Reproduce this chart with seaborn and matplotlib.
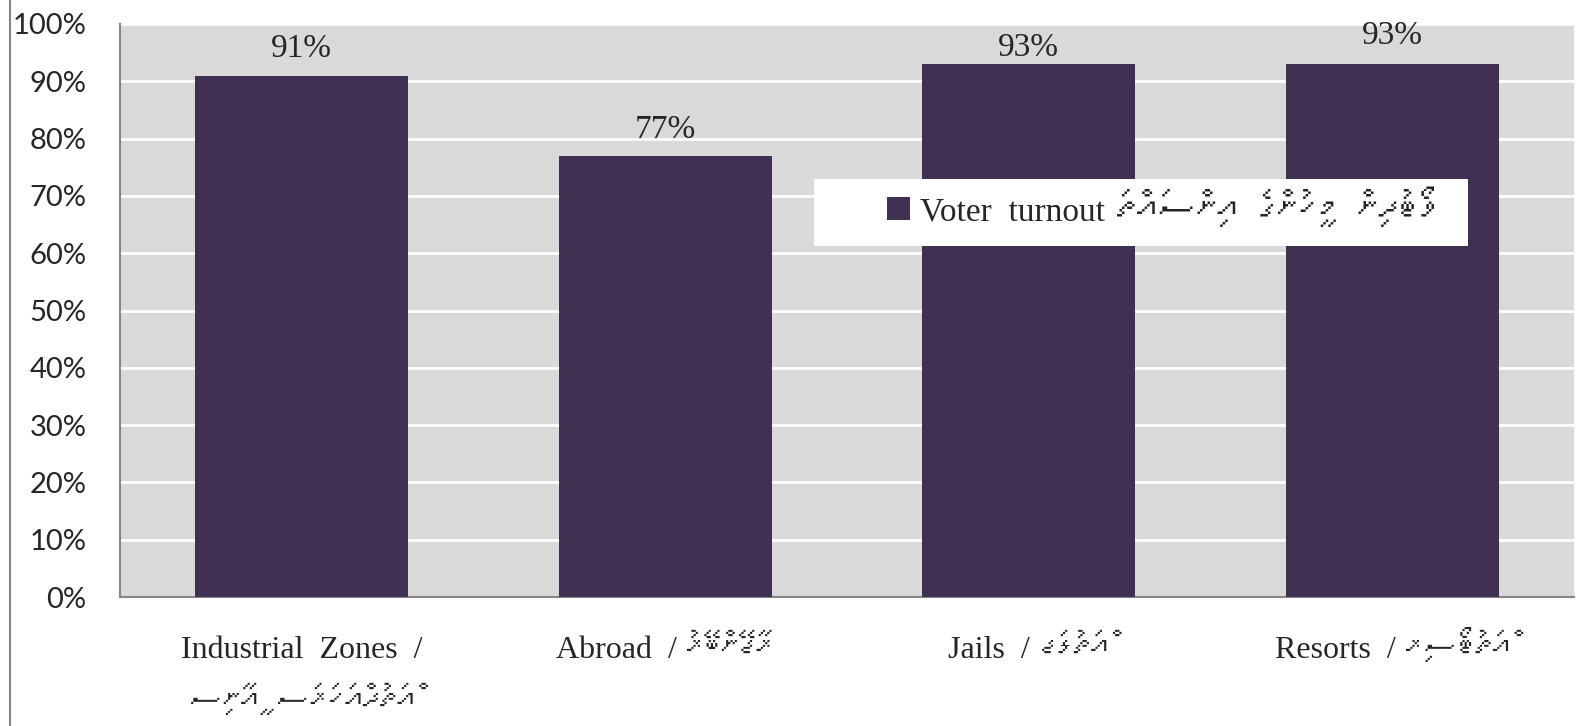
import matplotlib
matplotlib.use("Agg")
import unicodedata
import matplotlib.pyplot as plt
import seaborn as sns
import pandas as pd
from matplotlib import font_manager as fm
from matplotlib.ft2font import FT2Font
from matplotlib.lines import Line2D
from matplotlib.patches import Rectangle

# data
categories = ["Industrial Zones", "Abroad", "Jails", "Resorts"]
labels_en = ["Industrial  Zones  /", "Abroad  /", "Jails  /", "Resorts  /"]
labels_dv = ["ސިނާއީ ސަރަހައްދުތައް", "ރާޖޭންބޭރު", "ޖަލުތައް", "ރިސޯޓުތައް"]
# the reference draws some Dhivehi labels right-to-left and some left-to-right
labels_rtl = [False, True, False, False]
turnout = [0.91, 0.77, 0.93, 0.93]
bar_labels = ["91%", "77%", "93%", "93%"]
yticks = [i / 10 for i in range(11)]
ytick_labels = [f"{i * 10}%" for i in range(11)]
legend_en = "Voter  turnout"
legend_dv = "ވޯޓުދިން މީހުންގެ އިންސައްތަ"


def layout_dv(text, rtl):
    # no shaping in matplotlib: put each vowel mark in front of its letter so it sits on it,
    # and flip the letter order for right-to-left display
    clusters = []
    for ch in text:
        if clusters and unicodedata.combining(ch):
            base, marks = clusters[-1]
            clusters[-1] = (base, marks + ch)
        else:
            clusters.append((ch, ""))
    if rtl:
        clusters = clusters[::-1]
    return "".join(marks + base for base, marks in clusters)


# look for an installed font that has Thaana letters
thaana_font = None
for f in fm.fontManager.ttflist:
    try:
        if FT2Font(f.fname).get_char_index(0x0780):
            thaana_font = f.name
            break
    except Exception:
        pass

serif = ["Liberation Serif", "DejaVu Sans"]
dv_family = ([thaana_font] if thaana_font else []) + serif

df = pd.DataFrame({"category": categories, "turnout": turnout})

sns.set_style("white")
plt.rcParams["font.family"] = serif

fig = plt.figure(figsize=(15.82, 7.26), dpi=100)
ax = fig.add_axes([120 / 1582, 1 - 597 / 726, 1454 / 1582, 573 / 726])
ax.set_facecolor("#d9d9d9")

sns.barplot(data=df, x="category", y="turnout", color="#403152", width=0.587,
            saturation=1, linewidth=0, label=legend_en, ax=ax, zorder=3)

ax.set_ylim(0, 1)
ax.set_yticks(yticks)
ax.set_yticklabels(ytick_labels, fontfamily="Lato", fontsize=21)
ax.yaxis.grid(True, color="white", linewidth=2, zorder=0)
ax.set_axisbelow(True)
ax.set_xlabel("")
ax.set_ylabel("")

ax.set_xticklabels([""] * len(categories))
ax.set_xticks([-0.5, 0.5, 1.5, 2.5, 3.5], minor=True)
ax.tick_params(axis="x", which="major", length=0)
ax.tick_params(axis="x", which="minor", length=10, width=1.5, color="#868686", direction="out")
ax.tick_params(axis="y", length=10, width=1.5, color="#868686", direction="out", pad=14)
ax.set_xlim(-0.5, 3.5)

for s in ["top", "right"]:
    ax.spines[s].set_visible(False)
for s in ["left", "bottom"]:
    ax.spines[s].set_color("#868686")
    ax.spines[s].set_linewidth(1.5)

# category labels: English part + larger Dhivehi part on one baseline
renderer = fig.canvas.get_renderer()
xform = ax.get_xaxis_transform()
for i, (en, dv, rtl) in enumerate(zip(labels_en, labels_dv, labels_rtl)):
    t_en = ax.annotate(en, (i, 0), xycoords=xform, xytext=(0, -61), textcoords="offset pixels",
                       ha="center", va="baseline", fontsize=23, annotation_clip=False)
    t_dv = ax.annotate(layout_dv(dv, rtl), (i, 0), xycoords=xform, xytext=(0, -114),
                       textcoords="offset pixels", ha="center", va="baseline",
                       fontsize=25, family=dv_family, annotation_clip=False)
    if i > 0:
        w_en = t_en.get_window_extent(renderer).width
        w_dv = t_dv.get_window_extent(renderer).width
        gap = 10
        left = -(w_en + gap + w_dv) / 2
        t_en.set_ha("left")
        t_dv.set_ha("left")
        t_en.set_position((left, -61))
        t_dv.set_position((left + w_en + gap, -61))

offsets = [27, 26, 16, 28]
for i, (v, t, off) in enumerate(zip(turnout, bar_labels, offsets)):
    ax.annotate(t, (i, v), xytext=(0, off), textcoords="offset pixels",
                ha="center", va="center", fontsize=24, annotation_clip=False)

# white legend box
ax.add_patch(Rectangle((0.477, 0.613), 0.450, 0.117, transform=ax.transAxes,
                       facecolor="white", edgecolor="none", zorder=4))
leg = ax.legend(loc="center left", bbox_to_anchor=(0.518, 0.672), frameon=False, fontsize=24,
                handlelength=0.7, handleheight=0.7, handletextpad=0.3, borderaxespad=0)
ax.annotate(layout_dv(legend_dv, True), xy=(1, 0), xycoords=leg.get_texts()[0],
            xytext=(12, 0), textcoords="offset pixels", ha="left", va="bottom",
            fontsize=29, family=dv_family, zorder=6)

# outer chart border on the left
fig.add_artist(Line2D([10 / 1582, 10 / 1582], [0, 1], color="#868686", linewidth=1.5,
                      transform=fig.transFigure))

fig.savefig("out.png", dpi=100)
